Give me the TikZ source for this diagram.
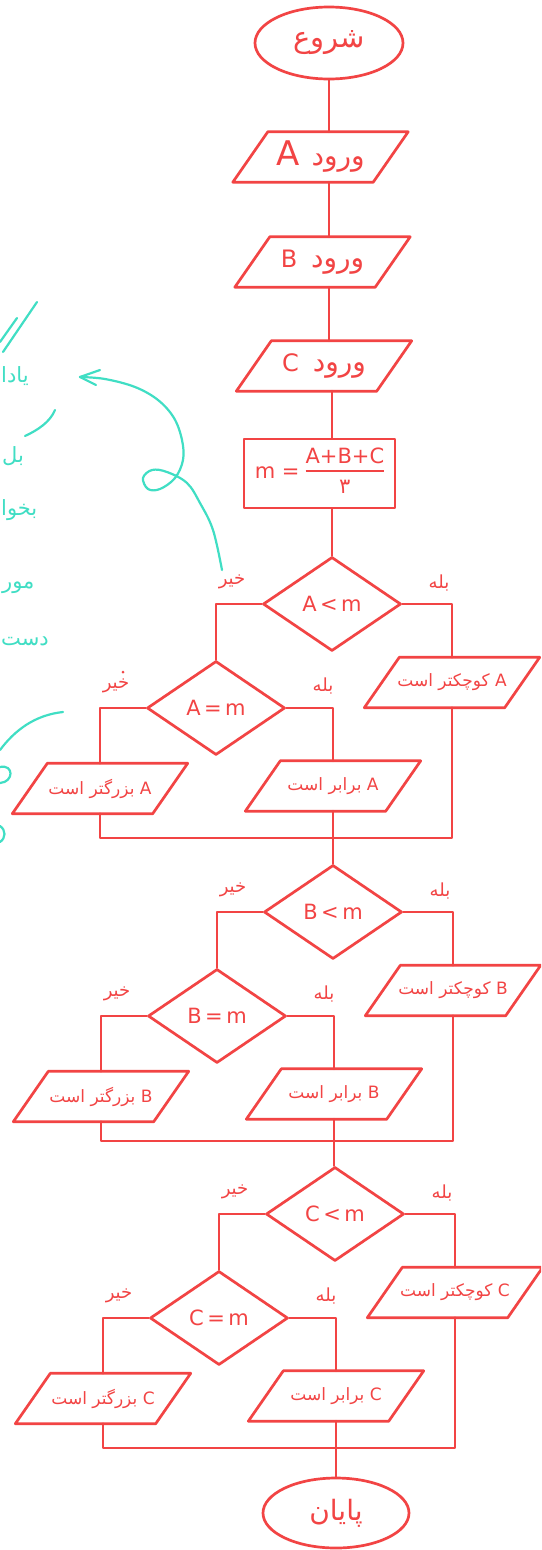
\documentclass[tikz,border=0pt]{standalone}
\usepackage{fontspec}
\usetikzlibrary{shapes.geometric}
\setmainfont{DejaVu Sans}
\newfontfamily\fa[Script=Arabic]{DejaVu Sans}
\TeXXeTstate=1
\definecolor{rd}{RGB}{242,68,68}
\definecolor{cy}{RGB}{64,222,196}
\setlength{\arrayrulewidth}{2.2pt}
\tikzset{
 ln/.style={draw=rd, line width=2.7pt, line join=round, line cap=round},
 term/.style={ellipse, ln, minimum width=148pt, minimum height=72pt, inner sep=0pt, text=rd},
 dec/.style={diamond, ln, minimum width=138pt, minimum height=94pt, inner sep=0pt, text=rd, font=\fontsize{21}{24}\selectfont},
 proc/.style={rectangle, ln, minimum width=151pt, minimum height=69pt, inner sep=0pt, text=rd},
 ptext/.style={rectangle, minimum height=50pt, inner sep=0pt, text=rd},
 lbl/.style={text=rd, font=\fa\fontsize{18}{20}\selectfont, inner sep=0pt},
 cyt/.style={text=cy, font=\fa\fontsize{21}{24}\selectfont, inner sep=0pt, anchor=west},
 cyl/.style={draw=cy, line width=2.2pt, line cap=round, line join=round},
}
\newcommand{\parabox}[3]{%
 \node[ptext, minimum width=175pt] (#1) at (#2) {#3};
 \draw[ln] (#1.south west) -- ([xshift=-35pt]#1.south east) -- (#1.north east) -- ([xshift=35pt]#1.north west) -- cycle;}
\newcommand{\intxt}{\fa\fontsize{28}{30}\selectfont}
\newcommand{\restxt}{\fa\fontsize{17}{20}\selectfont}
\newcommand{\fw}[1]{\mbox{#1}}
\begin{document}
\begin{tikzpicture}[x=1pt,y=-1pt]
\useasboundingbox (0,0) rectangle (541,1550);
\clip (0,0) rectangle (541,1550);
\fill[white] (0,0) rectangle (541,1550);

% top spine
\node[term] (start) at (329,43) {\fa\fontsize{29}{32}\selectfont\fw{شروع}};
\parabox{inA}{320.5,157}{\intxt{\fontsize{34}{36}\selectfont A}\hspace{12pt}\fw{ورود}}
\parabox{inB}{322.5,262}{\intxt{\fontsize{24}{26}\selectfont B}\hspace{14pt}\fw{ورود}}
\parabox{inC}{324,366}{\intxt{\fontsize{24}{26}\selectfont C}\hspace{14pt}\fw{ورود}}
\node[proc, font=\fontsize{21}{24}\selectfont] (calc) at (319.5,473.5)
  {m =\hspace{6pt}\begin{tabular}{@{}c@{}}A+B+C\\[-1pt]\hline\rule{0pt}{21pt}\fa ۳\end{tabular}};

% three comparison blocks
\foreach \L/\dy/\dx/\my in {A/0/0/838, B/308/1/1141, C/610/3/1448}{
  \node[dec] (d\L) at (332+\dx,604+\dy) {\L\,<\,m};
  \parabox{y\L}{452+\dx,682.5+\dy}{\restxt\fw{است}\ \fw{کوچکتر}\ \L}
  \node[dec] (e\L) at (216+\dx,708+\dy) {\L\,=\,m};
  \parabox{q\L}{333+\dx,786+\dy}{\restxt\fw{است}\ \fw{برابر}\ \L}
  \parabox{g\L}{100+\dx,788.5+\dy}{\restxt\fw{است}\ \fw{بزرگتر}\ \L}
  \node[lbl] (n1\L) at (232+\dx,582+\dy) {\fw{خیر}};
  \node[lbl] (b1\L) at (439+\dx,583+\dy) {\fw{بله}};
  \node[lbl] (n2\L) at (116+\dx,686+\dy) {\fw{خیر}};
  \node[lbl] (b2\L) at (323+\dx,686+\dy) {\fw{بله}};
  \draw[ln] (d\L.east) -| (y\L.north);
  \draw[ln] (d\L.west) -| (e\L.north);
  \draw[ln] (e\L.east) -| (q\L.north);
  \draw[ln] (e\L.west) -| (g\L.north);
  \coordinate (j\L) at (334+\dx,\my);
  \draw[ln] (g\L.south) |- (j\L) -| (y\L.south);
}

\node[term, minimum width=146pt, minimum height=70pt] (stop) at (336,1513) {\fa\fontsize{28}{32}\selectfont\fw{پایان}};

\draw[ln] (start.south) -- (start.south |- inA.north);
\draw[ln] (inA.south -| start.south) -- (inB.north -| start.south);
\draw[ln] (inB.south -| start.south) -- (inC.north -| start.south);
\draw[ln] (inC.south -| dA.north) -- (calc.north -| dA.north);
\draw[ln] (calc.south -| dA.north) -- (dA.north);
\draw[ln] (qA.south) -- (qA.south |- dB.north);
\draw[ln] (qB.south) -- (qB.south |- dC.north);
\draw[ln] (qC.south) -- (qC.south |- stop.north);

\fill[rd] (123,672) circle (1.5pt);

% cyan annotations
\draw[cyl] (37,302) -- (3,352);
\draw[cyl] (17,318) -- (0,342);
\node[cyt] (t1) at (1,376) {\fw{یادا}};
\draw[cyl] (55,410) .. controls (50,422) and (38,430) .. (25,436);
\node[cyt] (t2) at (2,456) {\fw{بل}};
\node[cyt] (t3) at (1,510) {\fw{بخوا}};
\node[cyt] (t4) at (2,588) {\fw{مور}};
\node[cyt] (t5) at (1,641) {\fw{دست}};
\draw[cyl] plot[smooth, tension=0.6] coordinates {(222,570) (213,530) (200,503) (187,483) (167,472) (152,470) (143,478) (148,489) (160,489) (175,478) (183,460) (182,440) (174,418) (158,400) (135,387) (105,379) (80,377)};
\draw[cyl] (100,370) -- (80,377) -- (96,385);
\draw[cyl] (63,712) .. controls (35,715) and (15,730) .. (0,750);
\draw[cyl] (0,767) .. controls (14,764) and (14,782) .. (0,783);
\draw[cyl] (0,826) .. controls (6,830) and (6,838) .. (0,842);
\end{tikzpicture}
\end{document}
